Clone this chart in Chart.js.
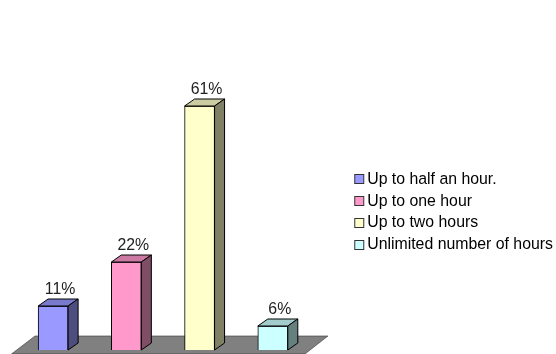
<!DOCTYPE html>
<html>
<head>
<meta charset="utf-8">
<style>
  html, body { margin: 0; padding: 0; background: #fff; }
  canvas { display: block; }
</style>
<script src="https://cdn.jsdelivr.net/npm/chart.js@4"></script>
</head>
<body>
<canvas id="myChart" width="556" height="354"></canvas>
<script>
var categories = ["Up to half an hour.", "Up to one hour", "Up to two hours", "Unlimited number of hours"];
var percents = [11, 22, 61, 6];
var frontColors = ["#9999ff", "#ff99cc", "#ffffcc", "#ccffff"];
var topColors = ["#7a7acc", "#cc7aa3", "#cccca3", "#a3cccc"];
var sideColors = ["#4d4d80", "#804d66", "#808066", "#668080"];

var depthX = 10;
var depthY = 7;

function face(ctx, pts, fill) {
  ctx.beginPath();
  ctx.moveTo(pts[0][0], pts[0][1]);
  for (var i = 1; i < pts.length; i++) ctx.lineTo(pts[i][0], pts[i][1]);
  ctx.closePath();
  ctx.fillStyle = fill;
  ctx.fill();
  ctx.stroke();
}

// floor under the bars, the fake 3d sides, the labels and legend swatches
var box3d = {
  id: "box3d",
  beforeDatasetsDraw: function(chart) {
    var ctx = chart.ctx;
    var area = chart.chartArea;
    var y0 = chart.scales.y.getPixelForValue(0);
    ctx.save();
    ctx.strokeStyle = "#333333";
    ctx.lineWidth = 0.6;
    face(ctx, [
      [area.left + 18.5, y0 - 14],
      [area.right + 18.5, y0 - 14],
      [area.right - 4.5, y0 + 4],
      [area.left - 5, y0 + 4]
    ], "#808080");
    ctx.restore();
  },
  afterDatasetsDraw: function(chart) {
    var ctx = chart.ctx;
    var bars = chart.getDatasetMeta(0).data;
    ctx.save();
    for (var i = 0; i < bars.length; i++) {
      var b = bars[i];
      var l = b.x - b.width / 2;
      var r = b.x + b.width / 2;
      var t = b.y;
      var bot = b.base;
      ctx.strokeStyle = "#000";
      ctx.lineWidth = 1;
      face(ctx, [[l, t], [l + depthX, t - depthY], [r + depthX, t - depthY], [r, t]], topColors[i]);
      face(ctx, [[r, t], [r + depthX, t - depthY], [r + depthX, bot - depthY], [r, bot]], sideColors[i]);
      ctx.fillStyle = "#222";
      ctx.font = "15.85px 'Liberation Sans'";
      ctx.textAlign = "center";
      ctx.textBaseline = "alphabetic";
      ctx.fillText(percents[i] + "%", b.x + 7, t - 12);
    }
    ctx.restore();
  },
  afterDraw: function(chart) {
    var ctx = chart.ctx;
    var hits = chart.legend.legendHitBoxes;
    ctx.save();
    ctx.strokeStyle = "#333";
    ctx.lineWidth = 1;
    for (var i = 0; i < hits.length; i++) {
      var yMid = Math.round(hits[i].top + hits[i].height / 2);
      ctx.fillStyle = frontColors[i];
      ctx.fillRect(hits[i].left + 0.5, yMid - 4.5, 9, 9);
      ctx.strokeRect(hits[i].left + 0.5, yMid - 4.5, 9, 9);
    }
    ctx.restore();
  }
};

var ctx = document.getElementById("myChart").getContext("2d");
var myChart = new Chart(ctx, {
  type: "bar",
  data: {
    labels: categories,
    datasets: [{
      data: percents,
      backgroundColor: frontColors,
      borderColor: "#000",
      borderWidth: 1,
      barThickness: 30
    }]
  },
  plugins: [box3d],
  options: {
    responsive: false,
    animation: false,
    layout: { padding: { left: 16.5, top: 74, bottom: 4, right: -7 } },
    plugins: {
      tooltip: { enabled: false },
      legend: {
        position: "right",
        maxWidth: 240,
        labels: {
          color: "#222",
          font: { family: "'Liberation Sans'", size: 15.85 },
          boxWidth: 5,
          boxHeight: 9,
          padding: 5.85,
          generateLabels: function(chart) {
            return categories.map(function(name, i) {
              return { text: name, fillStyle: "rgba(0,0,0,0)", strokeStyle: "rgba(0,0,0,0)", lineWidth: 0, index: i };
            });
          }
        }
      }
    },
    scales: {
      x: { display: false },
      y: {
        position: "right",
        min: 0,
        max: 69,
        ticks: { display: false },
        grid: { display: false },
        border: { display: false },
        afterFit: function(scale) { scale.width = 39; }
      }
    }
  }
});
</script>
</body>
</html>
